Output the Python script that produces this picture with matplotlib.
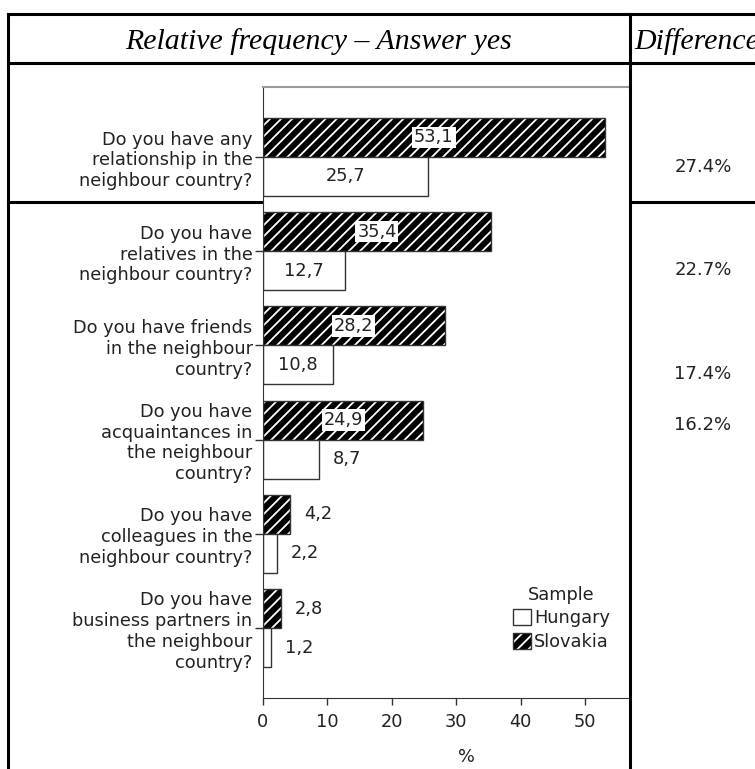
import numpy as np
import matplotlib
matplotlib.use("Agg")
import matplotlib.pyplot as plt
from matplotlib.lines import Line2D
from matplotlib.patches import Patch

#----------------------------------------------------
# Data
#----------------------------------------------------
questions = [
    "Do you have any\nrelationship in the\nneighbour country?",
    "Do you have\nrelatives in the\nneighbour country?",
    "Do you have friends\nin the neighbour\ncountry?",
    "Do you have\nacquaintances in\nthe neighbour\ncountry?",
    "Do you have\ncolleagues in the\nneighbour country?",
    "Do you have\nbusiness partners in\nthe neighbour\ncountry?",
]
slovakia = [53.1, 35.4, 28.2, 24.9, 4.2, 2.8]
hungary = [25.7, 12.7, 10.8, 8.7, 2.2, 1.2]
x_ticks = [0, 10, 20, 30, 40, 50]
n_diff = 4  # differences shown in the right column

#----------------------------------------------------
# Layout helpers (pixel -> figure fraction)
#----------------------------------------------------
W, H = 755, 769
def fx(x):
    return x / W

def fy(y):
    return 1 - y / H

plt.rcParams["font.family"] = ["DejaVu Sans"]
plt.rcParams["hatch.linewidth"] = 1.3
TXT = "#222222"
EDGE = "#333333"
FS = 12.8

fig = plt.figure(figsize=(W / 100, H / 100), dpi=100)

# table lines
tbl = dict(color="black", linewidth=2.2, transform=fig.transFigure)
fig.add_artist(Line2D([fx(8), 1], [fy(14), fy(14)], **tbl))
fig.add_artist(Line2D([fx(8), 1], [fy(63), fy(63)], **tbl))
fig.add_artist(Line2D([fx(8), 1], [fy(202), fy(202)], zorder=-1, **tbl))
fig.add_artist(Line2D([fx(8), fx(8)], [fy(14), 0], **tbl))
fig.add_artist(Line2D([fx(630), fx(630)], [fy(14), 0], zorder=5, **tbl))

# header
fig.text(fx(319), fy(49), "Relative frequency \u2013 Answer yes", ha="center", va="baseline",
         fontsize=21.5, family="Liberation Serif", style="italic", color="black")
fig.text(fx(634), fy(49), "Difference", ha="left", va="baseline",
         fontsize=21.5, family="Liberation Serif", style="italic", color="black")

# difference column
diff_y = [167, 270, 374, 425]
for i in range(n_diff):
    d = slovakia[i] - hungary[i]
    fig.text(fx(703), fy(diff_y[i]), f"{d:.1f}%", ha="center", va="center",
             fontsize=13, color=TXT)

#----------------------------------------------------
# Chart
#----------------------------------------------------
ax = fig.add_axes([fx(263), fy(698), fx(630) - fx(263), fy(87) - fy(698)])
pos = np.arange(len(questions))
bh = 0.414

ax.barh(pos - bh / 2, slovakia, height=bh, color="black", edgecolor="white",
        hatch="///", linewidth=0)
ax.barh(pos - bh / 2, slovakia, height=bh, fill=False, edgecolor=EDGE, linewidth=1)
ax.barh(pos + bh / 2, hungary, height=bh, color="white", edgecolor=EDGE, linewidth=1)

def fmt(v):
    return f"{v:.1f}".replace(".", ",")

for i, (s, h) in enumerate(zip(slovakia, hungary)):
    if s >= 10:
        ax.text(s / 2, i - bh / 2, fmt(s), ha="center", va="center", fontsize=FS,
                color=TXT, bbox=dict(boxstyle="square,pad=0.1", fc="white", ec="none"))
    else:
        ax.annotate(fmt(s), (s, i - bh / 2), xytext=(10, 0), textcoords="offset points",
                    ha="left", va="center", fontsize=FS, color=TXT)
    if h >= 10:
        ax.text(h / 2, i + bh / 2, fmt(h), ha="center", va="center", fontsize=FS, color=TXT)
    else:
        ax.annotate(fmt(h), (h, i + bh / 2), xytext=(10, 0), textcoords="offset points",
                    ha="left", va="center", fontsize=FS, color=TXT)

ax.set_xlim(0, 57)
ax.set_ylim(len(questions) - 1 + 0.743, -0.743)
ax.set_xticks(x_ticks)
ax.set_yticks(pos, questions)
ax.tick_params(axis="x", length=5, width=1, pad=6, labelsize=FS, colors=EDGE, labelcolor=TXT)
ax.tick_params(axis="y", length=5.5, width=1, pad=2, labelsize=FS, colors=EDGE, labelcolor=TXT)
for lab in ax.get_yticklabels():
    lab.set_horizontalalignment("right")

ax.spines["right"].set_visible(False)
ax.spines["left"].set_color(EDGE)
ax.spines["bottom"].set_color(EDGE)
ax.spines["top"].set_color("#999999")
ax.spines["top"].set_linewidth(1.5)

fig.text(fx(466), fy(757), "%", ha="center", va="center", fontsize=FS, color=TXT)

# legend
h_hun = Patch(facecolor="white", edgecolor=EDGE, linewidth=1)
h_svk = (Patch(facecolor="black", edgecolor="white", hatch="///", linewidth=0),
         Patch(fill=False, edgecolor=EDGE, linewidth=1))
leg = fig.legend([h_hun, h_svk], ["Hungary", "Slovakia"], title="Sample",
                 loc="upper left", bbox_to_anchor=(fx(513), fy(586)),
                 bbox_transform=fig.transFigure, frameon=False, borderpad=0,
                 handlelength=1.0, handleheight=1.0, handletextpad=0.2,
                 labelspacing=0.3, fontsize=FS, title_fontsize=FS, borderaxespad=0)
for t in leg.get_texts():
    t.set_color(TXT)
leg.get_title().set_color(TXT)

fig.savefig("out.png", dpi=100)
